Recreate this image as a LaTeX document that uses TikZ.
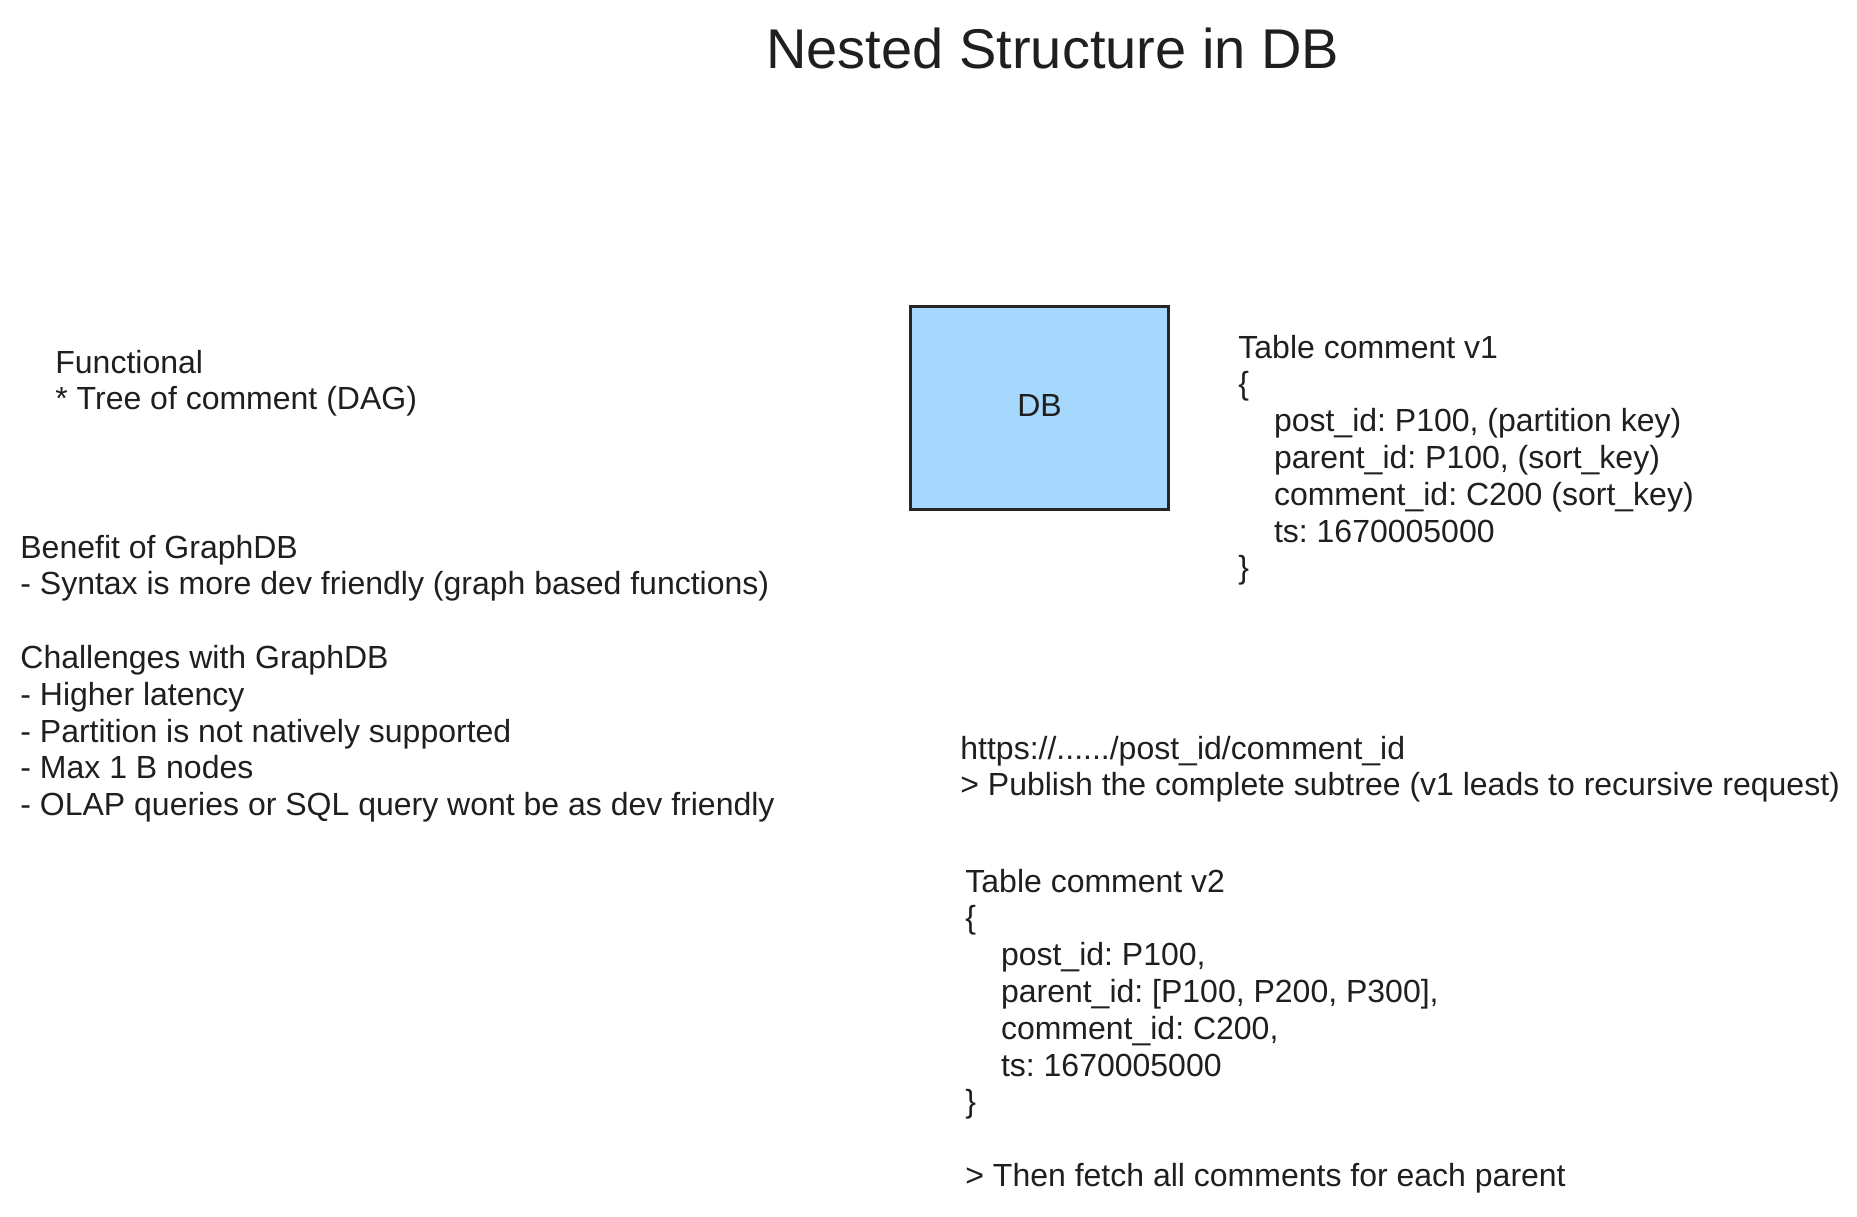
\documentclass[tikz,border=0pt]{standalone}
\usepackage{fontspec}
\setmainfont{Liberation Sans}
\definecolor{ink}{HTML}{1F1F1F}
\definecolor{dbblue}{HTML}{A6D8FD}
\definecolor{dbline}{HTML}{262626}

\tikzset{
    note/.style={font=\fontsize{16}{18.4}\selectfont, align=left, inner sep=0pt, anchor=base west, text=ink},
    store/.style={draw=dbline, fill=dbblue, line width=1.5pt, inner sep=0pt, font=\fontsize{16}{18.4}\selectfont, text=ink}
}
\newcommand{\ind}{\hspace*{17.8pt}}
\frenchspacing

\begin{document}
\begin{tikzpicture}[x=0.5pt, y=-0.5pt]
    \useasboundingbox (0,0) rectangle (1857,1216);
    \node[note, font=\fontsize{28}{32}\selectfont] (title) at (766,68) {Nested Structure in DB};

    % left column (node base = baseline of last line)
    \node[note] (func) at (55,409.8) {Functional\\* Tree of comment (DAG)};
    \node[note] (benefit) at (20,594.8) {Benefit of GraphDB\\- Syntax is more dev friendly (graph based functions)};
    \node[note] (challenges) at (20,815.6) {Challenges with GraphDB\\- Higher latency\\- Partition is not natively supported\\- Max 1 B nodes\\- OLAP queries or SQL query wont be as dev friendly};

    % db and tables
    \draw[store] (910.5,306.5) rectangle (1168.5,509.5);
    \node[store, draw=none, fill=none] (db) at (1039.5,405) {DB};
    \node[note] (tablea) at (1238,578.8) {Table comment v1\\\{\\\ind post\_id: P100, (partition key)\\\ind parent\_id: P100, (sort\_key)\\\ind comment\_id: C200 (sort\_key)\\\ind ts: 1670005000\\\}};
    \node[note] (url) at (960,795.8) {https://....../post\_id/comment\_id\\> Publish the complete subtree (v1 leads to recursive request)};
    \node[note] (tableb) at (965,1112.8) {Table comment v2\\\{\\\ind post\_id: P100,\\\ind parent\_id: [P100, P200, P300],\\\ind comment\_id: C200,\\\ind ts: 1670005000\\\}};
    \node[note] (fetch) at (965,1186.4) {> Then fetch all comments for each parent};
\end{tikzpicture}
\end{document}
